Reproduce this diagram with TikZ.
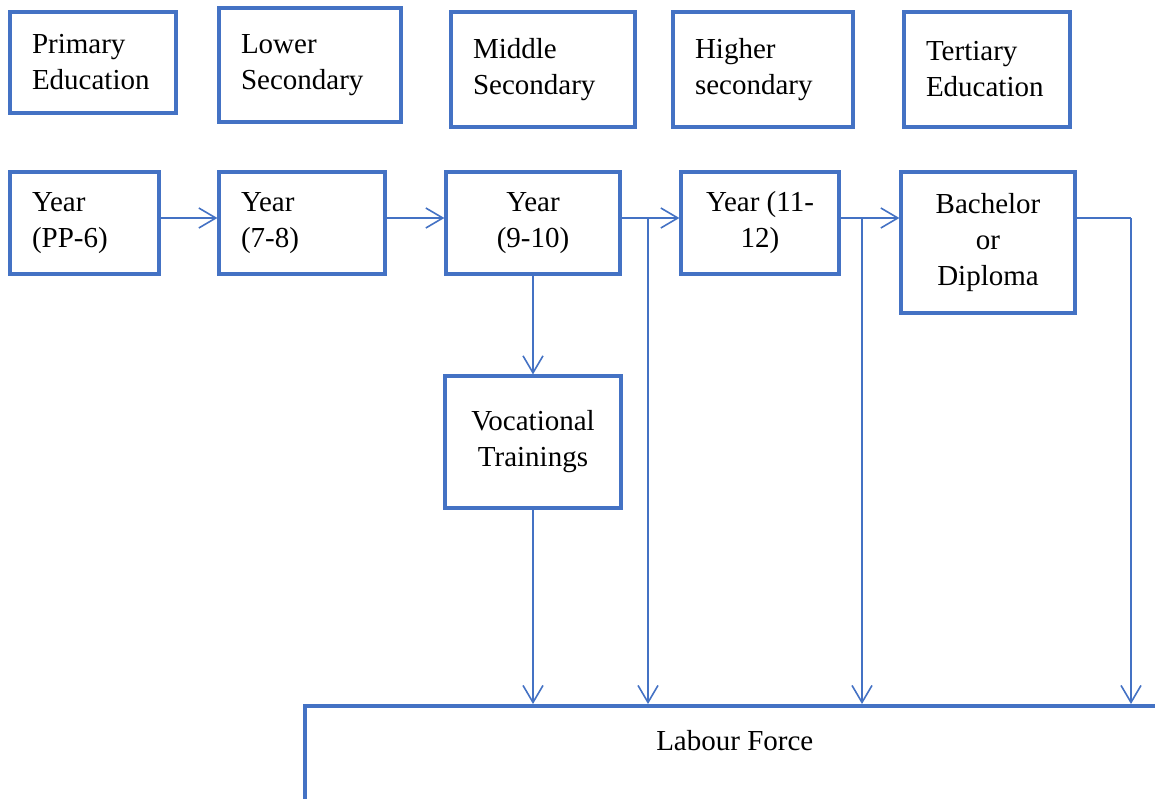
\documentclass[tikz,border=0pt]{standalone}
\usepackage{fontspec}
\setmainfont{Liberation Serif}
\usetikzlibrary{arrows.meta}
\definecolor{bl}{HTML}{4472C4}
\begin{document}
\begin{tikzpicture}[x=1pt,y=-1pt,
  every node/.style={font=\fontsize{29}{36}\selectfont},
  box/.style={draw=bl, line width=3.2pt, inner ysep=0pt, inner xsep=22pt},
  lbox/.style={box, align=left},
  cbox/.style={box, align=center, inner xsep=0pt},
  arr/.style={draw=bl, line width=1.6pt, -{Straight Barb[length=17pt,width=20pt]}},
  ln/.style={draw=bl, line width=1.6pt}]
\clip (0,0) rectangle (1155,798);
% top row
\node[lbox, text width=122pt, minimum height=101pt] (prim) at (93,62.5) {Primary\\Education};
\node[lbox, text width=138pt, minimum height=114pt] (lows) at (310,65) {Lower\\Secondary};
\node[lbox, text width=140pt, minimum height=115pt] (mids) at (543,69.5) {Middle\\Secondary};
\node[lbox, text width=136pt, minimum height=115pt] (highs) at (763,69.5) {Higher\\secondary};
\node[lbox, text width=122pt, minimum height=115pt] (tert) at (987,69.5) {Tertiary\\Education};
% second row
\node[lbox, text width=105pt, minimum height=102pt] (ypp) at (84.5,223) {Year\\(PP-6)};
\node[lbox, text width=122pt, minimum height=102pt] (y78) at (302,223) {Year\\(7-8)};
\node[cbox, minimum width=174pt, minimum height=102pt] (y910) at (533,223) {Year\\(9-10)};
\node[cbox, minimum width=158pt, minimum height=102pt] (y1112) at (760,223) {Year (11-\\12)};
\node[cbox, minimum width=174pt, minimum height=141pt] (bach) at (988,242.5) {Bachelor\\or\\Diploma};
\node[cbox, minimum width=176pt, minimum height=132pt] (voc) at (533,442) {Vocational\\Trainings};
% labour force
\node[box, line width=3.5pt, minimum width=860pt, minimum height=130pt, anchor=north west] (labour) at (303,704) {};
\node (labtext) at ([yshift=-37pt]labour.north) {Labour Force};
% coordinates
\coordinate (b1) at (648,218);
\coordinate (b2) at (862,218);
\coordinate (b3) at (1131,218);
% connectors
\draw[arr] ([yshift=5pt]ypp.east) -- ([yshift=5pt]y78.west);
\draw[arr] ([yshift=5pt]y78.east) -- ([yshift=5pt]y910.west);
\draw[arr] ([yshift=5pt]y910.east) -- ([yshift=5pt]y1112.west);
\draw[arr] ([yshift=5pt]y1112.east) -- (bach.west |- b2);
\draw[arr] (b1) -- (b1 |- labour.north);
\draw[arr] (b2) -- (b2 |- labour.north);
\draw[ln] (bach.east |- b3) -- (b3);
\draw[arr] (b3) -- (b3 |- labour.north);
\draw[arr] (y910.south) -- (voc.north);
\draw[arr] (voc.south) -- (voc.south |- labour.north);
\end{tikzpicture}
\end{document}
